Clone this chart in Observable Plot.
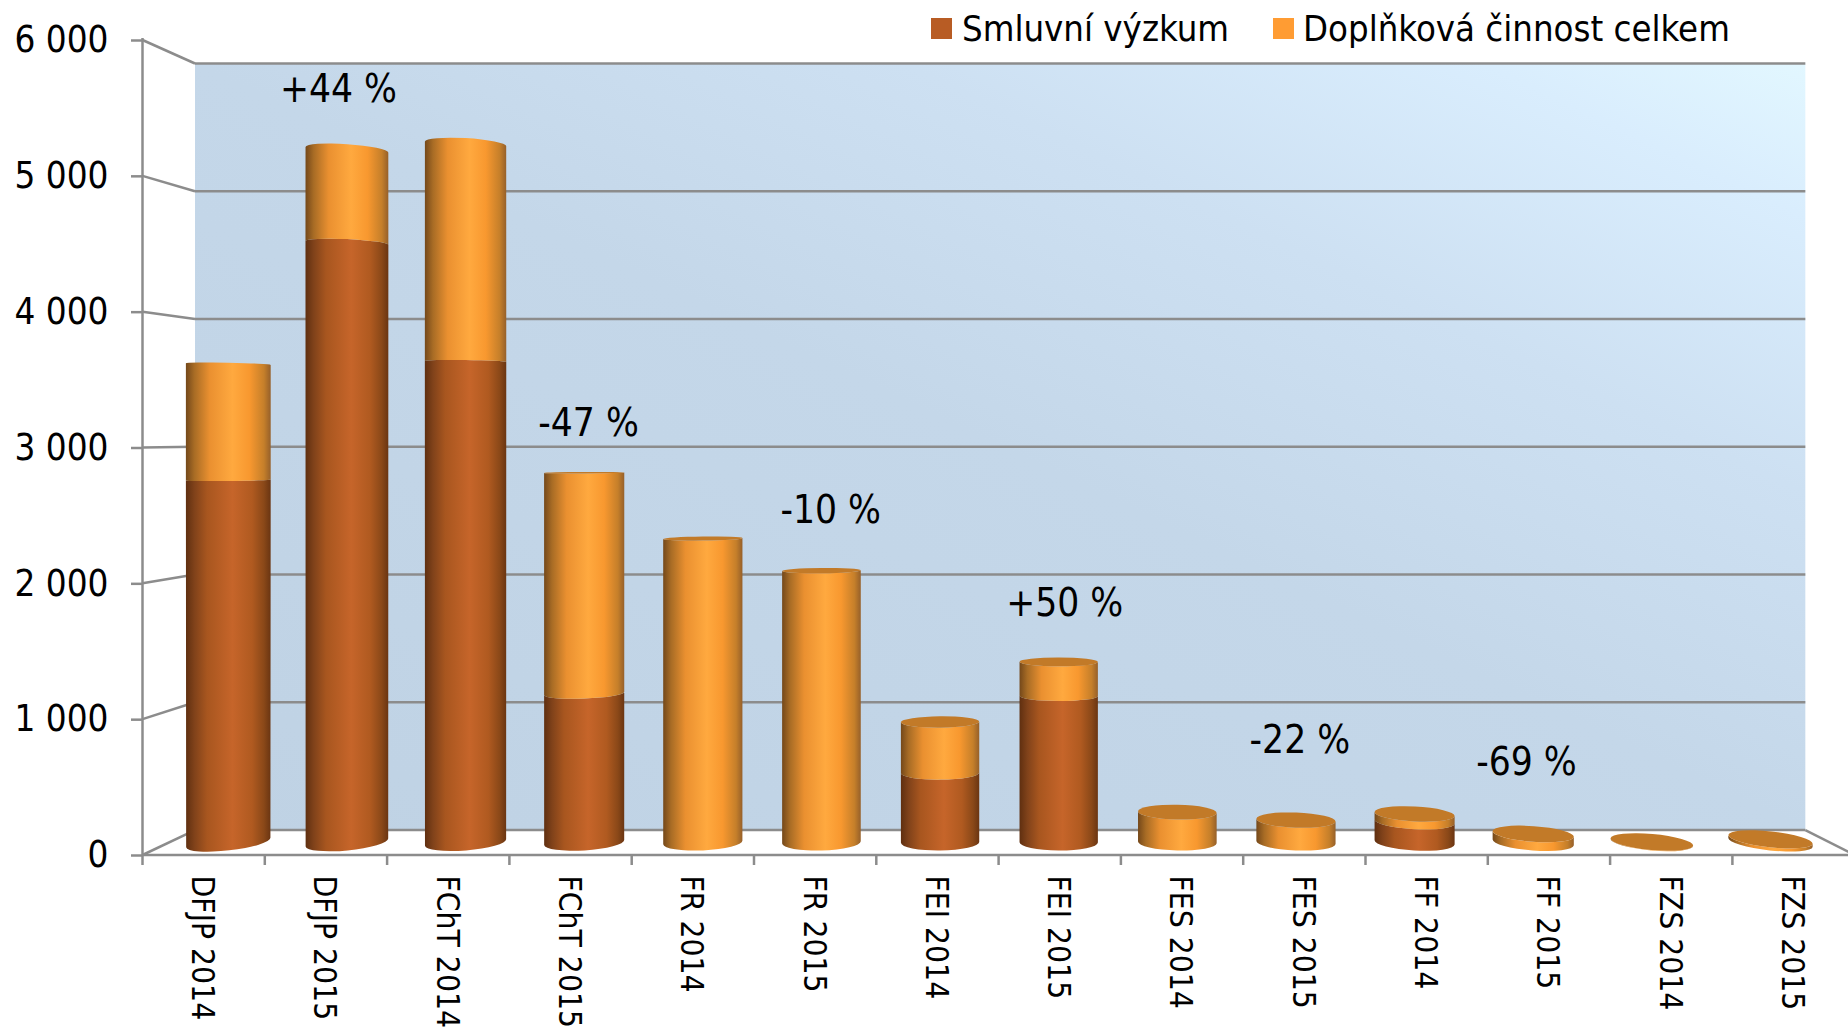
<!DOCTYPE html>
<html lang="cs">
<head>
<meta charset="utf-8">
<title>Smluvní výzkum a doplňková činnost</title>
<script src="https://cdn.jsdelivr.net/npm/d3@7"></script>
<script src="https://cdn.jsdelivr.net/npm/@observablehq/plot@0.6"></script>
<style>
  html, body { margin: 0; padding: 0; background: #fff; overflow: hidden; }
  svg { display: block; }
  #legend { position: absolute; left: 0; top: 0; width: 1848px; height: 60px;
    font-family: "DejaVu Sans Condensed", "DejaVu Sans"; font-stretch: condensed; font-size: 36.2px; color: #000; }
  #legend i { position: absolute; top: 18px; width: 21px; height: 21px; }
  #legend span { position: absolute; top: 7px; white-space: nowrap; line-height: 44px; }
</style>
</head>
<body>
<div id="legend">
  <i style="left:931px;background:#b85c24"></i><span style="left:962px">Smluvní výzkum</span>
  <i style="left:1273px;background:#ff9c33"></i><span style="left:1303px">Doplňková činnost celkem</span>
</div>
<div id="chart"></div>
<script>
const categories = ["DFJP 2014","DFJP 2015","FChT 2014","FChT 2015","FR 2014","FR 2015","FEI 2014","FEI 2015","FES 2014","FES 2015","FF 2014","FF 2015","FZS 2014","FZS 2015"];
const smluvniVyzkum = [2750,4550,3650,1130,0,0,527,1112,0,0,158,0,0,0];
const doplnkovaCinnost = [880,707,1652,1676,2306,2063,387,258,230,169,58,64,3,23];
const yTicks = [0,1000,2000,3000,4000,5000,6000];
const changeCategories = ["DFJP 2015","FChT 2015","FR 2015","FEI 2015","FES 2015","FF 2015"];
const changeTexts = ["+44 %","-47 %","-10 %","+50 %","-22 %","-69 %"];
const changeHeights = [5648,3188,2548,1863,854,692];
const changeNudges = [12,17.5,15,4.5,-5,-23];

const rows = [
  ...categories.map((cat, i) => ({cat, series: "Smluvní výzkum", value: smluvniVyzkum[i]})),
  ...categories.map((cat, i) => ({cat, series: "Doplňková činnost celkem", value: doplnkovaCinnost[i]}))
];

const FONT = '"DejaVu Sans Condensed", "DejaVu Sans"';
const GREY = "#8c8c8c";
const frontX = [142.5, 1854.7], frontY = [855, 40];
const paddingInner = 0.34;
const vx = 1025, vy = 435;           // vanishing point of the 3D box
const kBack = 0.9405, kMid = 0.97;   // depth factors
const px = (x, k) => vx + (x - vx) * k;
const py = (y, k) => vy + (y - vy) * k;
const NS = "http://www.w3.org/2000/svg";
const el = (name, attrs, parent) => {
  const e = document.createElementNS(NS, name);
  for (const k in attrs) e.setAttribute(k, attrs[k]);
  if (parent) parent.appendChild(e);
  return e;
};

function defsMark() {
  const g = el("g", {});
  const defs = el("defs", {}, g);
  const grad = (id, stops, vec) => {
    const lg = el("linearGradient", Object.assign({id}, vec), defs);
    stops.forEach(([o, c]) => el("stop", {offset: o, "stop-color": c}, lg));
  };
  const horiz = {x1: 0, y1: 0, x2: 1, y2: 0};
  grad("gBrown", [[0,"#5f2f10"],[.1,"#80421a"],[.25,"#a8561f"],[.55,"#c6652a"],[.78,"#b05a20"],[.92,"#8a4818"],[1,"#6a3512"]], horiz);
  grad("gOrange", [[0,"#74481a"],[.1,"#a86c25"],[.28,"#ea9030"],[.55,"#ffa93f"],[.75,"#f8982f"],[.92,"#c57f2a"],[1,"#96602a"]], horiz);
  grad("gWall", [[0,"#bfd2e4"],[.5,"#c4d7e9"],[.72,"#cde0f2"],[.9,"#d9edfd"],[1,"#e2f7ff"]], {x1: 0, y1: 1, x2: 1, y2: 0});
  return g;
}

function frameMark(index, {x, y}) {
  const g = el("g", {fill: "none", stroke: GREY, "stroke-width": 2.5});
  const back = {l: px(frontX[0], kBack), r: px(frontX[1], kBack)};
  const yB = v => py(y(v), kBack);
  const line = (x1, y1, x2, y2) => el("line", {x1, y1, x2, y2}, g);
  el("rect", {x: back.l, y: yB(6000), width: back.r - back.l, height: yB(0) - yB(6000), fill: "url(#gWall)", stroke: "none"}, g);
  for (const v of yTicks) {
    line(back.l, yB(v), back.r, yB(v));
    line(frontX[0], y(v), back.l, yB(v));
  }
  // floor edges and y axis line
  line(back.r, yB(0), frontX[1], y(0));
  line(frontX[0], y(0), 1848, y(0));
  line(frontX[0], y(6000) - 2, frontX[0], y(0) + 1);
  // x ticks sit on the band boundaries
  const step = (frontX[1] - frontX[0]) / categories.length;
  const gap = step * paddingInner;
  for (const c of categories) line(x(c) - gap / 2, y(0), x(c) - gap / 2, y(0) + 10);
  return g;
}

function cylinders(index, scales, values, dimensions, context, next) {
  const g = next(index, scales, values, dimensions, context);
  const rects = Array.from(g.querySelectorAll("rect"));
  for (const r of rects) {
    const i = d3.select(r).datum();
    const row = rows[i];
    const X = +r.getAttribute("x"), Y = +r.getAttribute("y");
    const W = +r.getAttribute("width"), H = +r.getAttribute("height");
    const xc = px(X + W / 2, kMid);
    const yb = py(Y + H, kMid), yt = py(Y, kMid);
    const t = (xc - 1000) / 800;
    const rx = W * kMid / 2 + 3.5 * t * t;
    const ryOf = yy => (yy - vy) * 0.0197;
    const tilt = yy => 2e-5 * (xc - vx) * (yy - vy);
    const ends = yy => {
      const a = tilt(yy) * Math.PI / 180;
      return [xc - rx * Math.cos(a), yy - rx * Math.sin(a), xc + rx * Math.cos(a), yy + rx * Math.sin(a)];
    };
    const top = row.series !== "Smluvní výzkum";
    const parent = r.parentNode;
    if (H > 0.01) {
      const [lbx, lby, rbx, rby] = ends(yb);
      const [ltx, lty, rtx, rty] = ends(yt);
      const rb = ryOf(yb), rt = ryOf(yt);
      const d = `M${lbx},${lby}A${rx},${Math.abs(rb)} ${tilt(yb)} 0 ${rb >= 0 ? 0 : 1} ${rbx},${rby}` +
                `L${rtx},${rty}A${rx},${Math.abs(rt)} ${tilt(yt)} 0 ${rt >= 0 ? 1 : 0} ${ltx},${lty}Z`;
      el("path", {d, fill: top ? "url(#gOrange)" : "url(#gBrown)"}, parent);
    }
    if (top && ryOf(yt) > 0) {
      el("ellipse", {cx: xc, cy: yt, rx, ry: ryOf(yt), fill: "#c27a28",
        transform: `rotate(${tilt(yt)} ${xc} ${yt})`}, parent);
    }
    r.remove();
  }
  return g;
}

const plot = Plot.plot({
  width: 1848,
  height: 1028,
  marginLeft: 142.5,
  marginRight: 0,
  marginTop: 40,
  marginBottom: 173,
  style: {fontFamily: FONT, fontStretch: "condensed", color: "#000", background: "transparent", overflow: "visible"},
  x: {domain: categories, range: frontX, paddingInner, paddingOuter: paddingInner / 2, round: false, label: null},
  y: {domain: [0, 6000], range: frontY, label: null},
  marks: [
    defsMark,
    frameMark,
    Plot.barY(rows, {x: "cat", y: "value", z: "series", render: cylinders}),
    ...changeTexts.map((text, i) => Plot.text([text], {
      x: () => changeCategories[i],
      y: () => changeHeights[i],
      text: d => d,
      dx: changeNudges[i],
      dy: 1,
      fontSize: 38.5,
      fill: "#000"
    })),
    Plot.axisY(yTicks, {
      tickFormat: d => d3.format(",")(d).replace(/,/g, " "),
      tickSize: 11.5, tickPadding: 23, fontSize: 36.5, stroke: GREY, strokeWidth: 2.5, label: null
    }),
    Plot.axisX({
      tickSize: 0, tickPadding: 20, tickRotate: 90, fontSize: 31.5, dx: -2, label: null
    })
  ]
});
document.getElementById("chart").appendChild(plot);
</script>
</body>
</html>
